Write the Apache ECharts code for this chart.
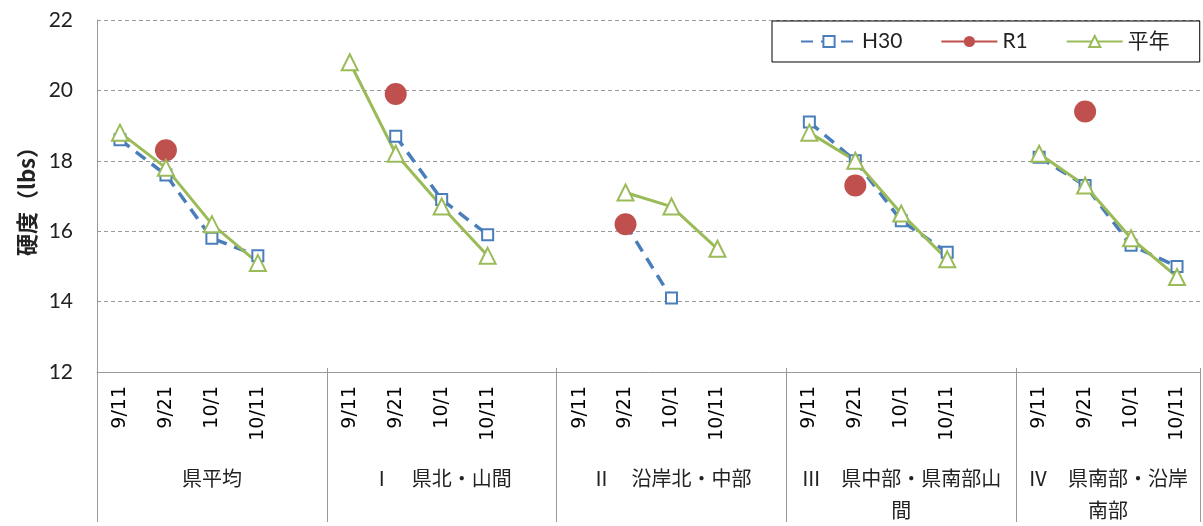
<!DOCTYPE html>
<html>
<head>
<meta charset="utf-8">
<script src="https://cdn.jsdelivr.net/npm/echarts@6/dist/echarts.min.js"></script>
<style>
html,body{margin:0;padding:0;background:#fff;}
#c{width:1203px;height:526px;}
</style>
</head>
<body>
<div id="c"></div>
<script>
// ---- data ----
const dates = ['9/11', '9/21', '10/1', '10/11'];
const groups = ['県平均', 'Ⅰ　県北・山間', 'Ⅱ　沿岸北・中部', 'Ⅲ　県中部・県南部山\n間', 'Ⅳ　県南部・沿岸\n南部'];
const yTicks = [12, 14, 16, 18, 20, 22];
const seriesNames = ['H30', 'R1', '平年'];
const h30 = [18.6, 17.6, 15.8, 15.3, null,
             null, 18.7, 16.9, 15.9, null,
             null, 16.2, 14.1, null, null,
             19.1, 18.0, 16.3, 15.4, null,
             18.1, 17.3, 15.6, 15.0];
const r1 = [null, 18.3, null, null, null,
            null, 19.9, null, null, null,
            null, 16.2, null, null, null,
            null, 17.3, null, null, null,
            null, 19.4, null, null];
const heinen = [18.8, 17.8, 16.2, 15.1, null,
                20.8, 18.2, 16.7, 15.3, null,
                null, 17.1, 16.7, 15.5, null,
                18.8, 18.0, 16.5, 15.2, null,
                18.2, 17.3, 15.8, 14.7];

// ---- build category list (groups of dates separated by a blank slot) ----
const categories = [];
const groupStarts = [];
const groupCenters = [];
groups.forEach((g, i) => {
  groupStarts.push(categories.length);
  const n = dates.length + (i < groups.length - 1 ? 1 : 0);
  groupCenters.push(categories.length + n / 2);
  dates.forEach(d => categories.push(d));
  if (i < groups.length - 1) categories.push('');
});
groupStarts.push(categories.length);

const chart = echarts.init(document.getElementById('c'));
const gridBox = {left: 97, right: 3, top: 20, bottom: 154};
const txt = '#000';
const option = {
  animation: false,
  textStyle: {fontFamily: '"Noto Sans CJK JP", sans-serif'},
  grid: [Object.assign({}, gridBox), Object.assign({}, gridBox)],
  legend: {
    data: seriesNames,
    left: 772, top: 21,
    padding: [10, 30, 10, 28],
    itemWidth: 56, itemHeight: 14, itemGap: 38,
    borderColor: '#000', borderWidth: 1,
    backgroundColor: '#fff',
    textStyle: {fontSize: 21, color: '#222', fontFamily: 'Lato, "Noto Sans CJK JP", sans-serif'}
  },
  xAxis: [{
    type: 'category', gridIndex: 0, data: categories, boundaryGap: true,
    axisLine: {lineStyle: {color: '#999', width: 1}},
    axisTick: {interval: 0, length: 106, lineStyle: {color: '#aaa'}},
    axisLabel: {interval: 0, rotate: 90, margin: 14, fontSize: 19, color: txt, fontFamily: 'DejaVu Sans'},
    splitLine: {show: false}
  }, {
    type: 'value', gridIndex: 1, min: 0, max: categories.length, position: 'bottom',
    axisLine: {show: false},
    axisTick: {show: true, customValues: groupStarts, length: 154, inside: false, lineStyle: {color: '#999'}},
    axisLabel: {
      show: true, customValues: groupCenters, margin: 94, fontSize: 20, color: '#222',
      lineHeight: 32, verticalAlign: 'top', align: 'center',
      formatter: v => { const i = groupCenters.indexOf(v); return i >= 0 ? groups[i] : ''; }
    },
    splitLine: {show: false}
  }],
  yAxis: [{
    type: 'value', gridIndex: 0, min: yTicks[0], max: yTicks[yTicks.length - 1], interval: 2,
    name: '硬度（lbs）', nameLocation: 'middle', nameGap: 49, nameRotate: 90,
    nameTextStyle: {fontSize: 22, fontWeight: 'bold', color: '#222'},
    axisLine: {show: true, lineStyle: {color: '#999'}},
    axisTick: {show: false},
    axisLabel: {fontSize: 21, color: '#222', margin: 24, fontFamily: 'Lato, sans-serif'},
    splitLine: {show: true, lineStyle: {color: '#999', type: [4, 3], width: 1}}
  }, {
    type: 'value', gridIndex: 1, show: false, min: 12, max: 22
  }],
  series: [{
    name: 'H30', type: 'line', xAxisIndex: 0, yAxisIndex: 0, data: h30,
    connectNulls: false,
    symbol: 'emptyRect', symbolSize: 11,
    itemStyle: {color: '#4a7ebb', borderWidth: 2},
    lineStyle: {color: '#4a7ebb', width: 3.5, type: [12, 8]}
  }, {
    name: 'R1', type: 'line', xAxisIndex: 0, yAxisIndex: 0, data: r1,
    connectNulls: false,
    symbol: 'circle', symbolSize: 22,
    itemStyle: {color: '#c0504d'},
    lineStyle: {color: '#c0504d', width: 3.5}
  }, {
    name: '平年', type: 'line', xAxisIndex: 0, yAxisIndex: 0, data: heinen,
    connectNulls: false,
    symbol: 'emptyTriangle', symbolSize: 16,
    itemStyle: {color: '#9bbb59', borderWidth: 2},
    lineStyle: {color: '#9bbb59', width: 3}
  }]
};
chart.setOption(option);
</script>
</body>
</html>
